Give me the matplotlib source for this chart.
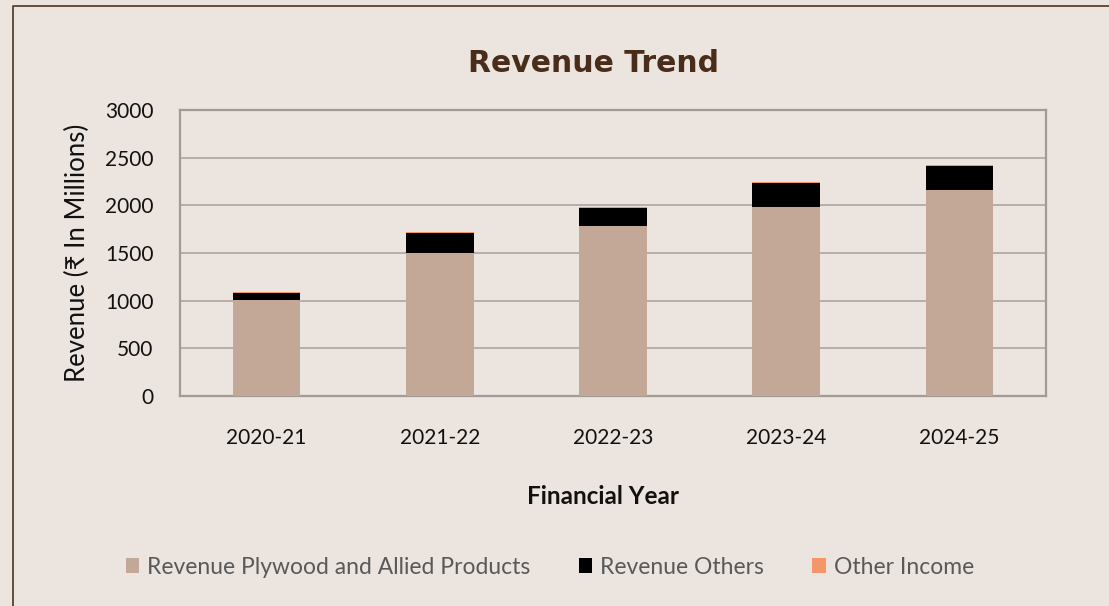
import matplotlib
matplotlib.use("Agg")
import matplotlib.pyplot as plt
from matplotlib.patches import Patch
from matplotlib.lines import Line2D
import numpy as np

years = ["2020-21", "2021-22", "2022-23", "2023-24", "2024-25"]
plywood = [1007, 1497, 1786, 1986, 2161]
others = [76, 208, 183, 245, 252]
other_income = [10, 15, 10, 16, 15]
series_names = ["Revenue Plywood and Allied Products", "Revenue Others", "Other Income"]
yticks = [0, 500, 1000, 1500, 2000, 2500, 3000]

W, H = 1109, 606
bg = "#ece4de"
c_ply = "#c3a797"
c_oth = "#000000"
c_inc = "#f4956a"
fam = ["Lato", "DejaVu Sans"]

fig = plt.figure(figsize=(W / 100, H / 100), dpi=100, facecolor=bg)
ax = fig.add_axes([180 / W, 1 - 396 / H, 866 / W, 286 / H])
ax.set_facecolor(bg)

x = np.arange(len(years))
bw = 0.39
ply = np.array(plywood)
oth = np.array(others)
inc = np.array(other_income)
ax.bar(x, ply, bw, color=c_ply, zorder=3)
ax.bar(x, oth, bw, bottom=ply, color=c_oth, zorder=3)
ax.bar(x, inc, bw, bottom=ply + oth, color=c_inc, zorder=3)

ax.set_xlim(-0.5, len(years) - 0.5)
ax.set_ylim(0, 3000)
ax.set_yticks(yticks)
ax.grid(axis="y", color="#b3aaa3", linewidth=1.3, zorder=0)
for s in ax.spines.values():
    s.set_color("#a39a93")
    s.set_linewidth(1.6)
ax.tick_params(length=0)
ax.set_xticks(x)
ax.set_xticklabels(years, fontsize=15, family=fam, color="#111111")
for lab in ax.get_yticklabels():
    lab.set_fontsize(15)
    lab.set_family(fam)
    lab.set_color("#111111")
ax.tick_params(axis="x", pad=23)
ax.tick_params(axis="y", pad=19)

ax.set_ylabel("Revenue (₹ In Millions)", fontsize=18.5, family=fam, color="#111111")
ax.yaxis.set_label_coords((90 - 180) / 866, 0.5)

fig.text(603 / W, 1 - 497 / H, "Financial Year", ha="center", va="center",
         fontsize=17.5, fontweight="bold", family=fam, color="#111111")
fig.text(593 / W, 1 - 63 / H, "Revenue Trend", ha="center", va="center",
         fontsize=21.5, fontweight="bold", family=["DejaVu Sans"], color="#4a2c1a")

handles = [Patch(facecolor=c_ply), Patch(facecolor=c_oth), Patch(facecolor=c_inc)]
leg = fig.legend(handles, series_names, loc="center", bbox_to_anchor=(550 / W, 1 - 567 / H),
                 ncol=3, frameon=False, handlelength=0.6, handleheight=0.6,
                 handletextpad=0.35, columnspacing=2.1,
                 prop={"family": fam, "size": 16.5})
for t in leg.get_texts():
    t.set_color("#595959")

# outer border (left and top visible)
fig.add_artist(Line2D([13 / W, 13 / W, 1.0], [0.0, 1 - 6 / H, 1 - 6 / H],
                      transform=fig.transFigure, color="#5b4232", linewidth=1.3))

fig.savefig("out.png", dpi=100, facecolor=bg)
